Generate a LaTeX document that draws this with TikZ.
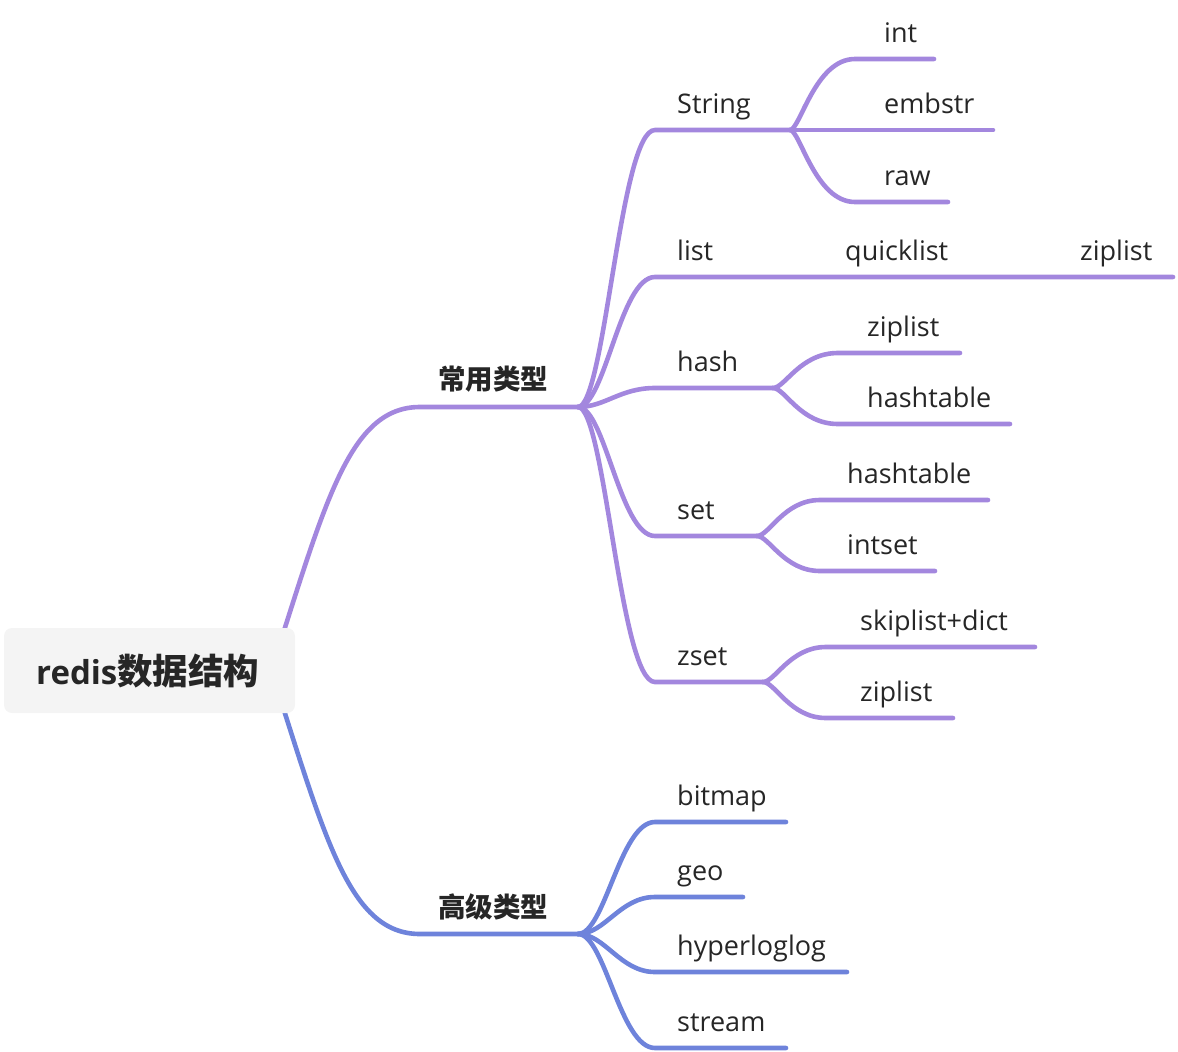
\documentclass[tikz,border=0pt]{standalone}
\usepackage{fontspec}
\setmainfont{Open Sans}
\newfontfamily\cjk{Noto Sans CJK SC}
\definecolor{purp}{RGB}{163,135,222}
\definecolor{blu}{RGB}{110,131,219}
\definecolor{txt}{RGB}{38,38,38}
\definecolor{boxfill}{RGB}{244,244,244}
\tikzset{
  pline/.style={draw=purp, line width=4.6pt, line cap=round},
  bline/.style={draw=blu, line width=4.6pt, line cap=round},
  lbl/.style={anchor=base west, inner sep=0pt, text=txt, font=\fontsize{27}{32}\selectfont},
  cjklbl/.style={anchor=base west, inner sep=0pt, text=txt, font=\fontsize{27.5}{32}\selectfont\cjk\bfseries},
  rootbox/.style={fill=boxfill, rounded corners=8pt, minimum width=291pt, minimum height=85pt, inner sep=0pt}
}
\begin{document}
\begin{tikzpicture}[x=1pt,y=-1pt]
\useasboundingbox (0,0) rectangle (1178,1052);
% --- root connectors (drawn first, box covers their start)
\coordinate (r1) at (274,662);
\coordinate (r2) at (274,679);
\coordinate (c1a) at (420,407);
\coordinate (h1) at (578,407);
\coordinate (c2a) at (420,934);
\coordinate (h2) at (578,934);
\draw[pline] (r1) .. controls (326,500) and (350,407) .. (c1a) -- (h1);
\draw[bline] (r2) .. controls (326,841) and (350,934) .. (c2a) -- (h2);
% root
\node[rootbox] (root) at (149.5,670.5) {};
\node[anchor=base west, inner sep=0pt, text=txt] (roottxt) at (36,684)
  {\fontsize{33}{38}\selectfont\bfseries redis\fontsize{35.5}{40}\selectfont\cjk\bfseries 数据结构};
% level-1 labels
\node[cjklbl] (common) at (438,389) {常用类型};
\node[cjklbl] (advanced) at (438,917) {高级类型};
% --- level 2 purple
\coordinate (sS) at (655,130); \coordinate (fS) at (790,130);
\coordinate (sL) at (655,277); \coordinate (mL1) at (820,277); \coordinate (mL2) at (1050,277); \coordinate (eL) at (1173,277);
\coordinate (sH) at (655,388); \coordinate (fH) at (773,388);
\coordinate (sSe) at (655,536); \coordinate (fSe) at (757,536);
\coordinate (sZ) at (655,682); \coordinate (fZ) at (763,682);
\draw[pline] (h1) .. controls (605,407) and (620,130) .. (sS) -- (fS);
\draw[pline] (h1) .. controls (605,407) and (620,277) .. (sL) -- (mL1) -- (mL2) -- (eL);
\draw[pline] (h1) .. controls (605,407) and (620,388) .. (sH) -- (fH);
\draw[pline] (h1) .. controls (605,407) and (620,536) .. (sSe) -- (fSe);
\draw[pline] (h1) .. controls (605,407) and (620,682) .. (sZ) -- (fZ);
% level 3: String
\coordinate (sInt) at (855,59); \coordinate (eInt) at (934,59);
\coordinate (eEmb) at (993,130);
\coordinate (sRaw) at (855,202); \coordinate (eRaw) at (948,202);
\draw[pline] (fS) .. controls (800,130) and (815,59) .. (sInt) -- (eInt);
\draw[pline] (fS) -- (eEmb);
\draw[pline] (fS) .. controls (800,130) and (815,202) .. (sRaw) -- (eRaw);
% hash
\coordinate (sHz) at (838,353); \coordinate (eHz) at (960,353);
\coordinate (sHh) at (838,424); \coordinate (eHh) at (1010,424);
\draw[pline] (fH) .. controls (785,388) and (800,353) .. (sHz) -- (eHz);
\draw[pline] (fH) .. controls (785,388) and (800,424) .. (sHh) -- (eHh);
% set
\coordinate (sSh) at (820,500); \coordinate (eSh) at (988,500);
\coordinate (sSi) at (820,571); \coordinate (eSi) at (935,571);
\draw[pline] (fSe) .. controls (769,536) and (784,500) .. (sSh) -- (eSh);
\draw[pline] (fSe) .. controls (769,536) and (784,571) .. (sSi) -- (eSi);
% zset
\coordinate (sZs) at (826,647); \coordinate (eZs) at (1035,647);
\coordinate (sZz) at (826,718); \coordinate (eZz) at (953,718);
\draw[pline] (fZ) .. controls (775,682) and (790,647) .. (sZs) -- (eZs);
\draw[pline] (fZ) .. controls (775,682) and (790,718) .. (sZz) -- (eZz);
% --- level 2 blue
\coordinate (sB) at (655,822); \coordinate (eB) at (786,822);
\coordinate (sG) at (655,897); \coordinate (eG) at (743,897);
\coordinate (sHy) at (655,972); \coordinate (eHy) at (847,972);
\coordinate (sSt) at (655,1048); \coordinate (eSt) at (786,1048);
\draw[bline] (h2) .. controls (605,934) and (620,822) .. (sB) -- (eB);
\draw[bline] (h2) .. controls (605,934) and (620,897) .. (sG) -- (eG);
\draw[bline] (h2) .. controls (605,934) and (620,972) .. (sHy) -- (eHy);
\draw[bline] (h2) .. controls (605,934) and (620,1048) .. (sSt) -- (eSt);
% labels
\node[lbl] (tString) at (677,113) {String};
\node[lbl] (tList) at (677,260) {list};
\node[lbl] (tHash) at (677,371) {hash};
\node[lbl] (tSet) at (677,519) {set};
\node[lbl] (tZset) at (677,665) {zset};
\node[lbl] (tInt) at (884,42) {int};
\node[lbl] (tEmb) at (884,113) {embstr};
\node[lbl] (tRaw) at (884,185) {raw};
\node[lbl] (tQuick) at (845,260) {quicklist};
\node[lbl] (tZipL) at (1080,260) {ziplist};
\node[lbl] (tHz) at (867,336) {ziplist};
\node[lbl] (tHh) at (867,407) {hashtable};
\node[lbl] (tSh) at (847,483) {hashtable};
\node[lbl] (tSi) at (847,554) {intset};
\node[lbl] (tZs) at (860,630) {skiplist+dict};
\node[lbl] (tZz) at (860,701) {ziplist};
\node[lbl] (tBit) at (677,805) {bitmap};
\node[lbl] (tGeo) at (677,880) {geo};
\node[lbl] (tHyp) at (677,955) {hyperloglog};
\node[lbl] (tStr) at (677,1031) {stream};
\end{tikzpicture}
\end{document}
